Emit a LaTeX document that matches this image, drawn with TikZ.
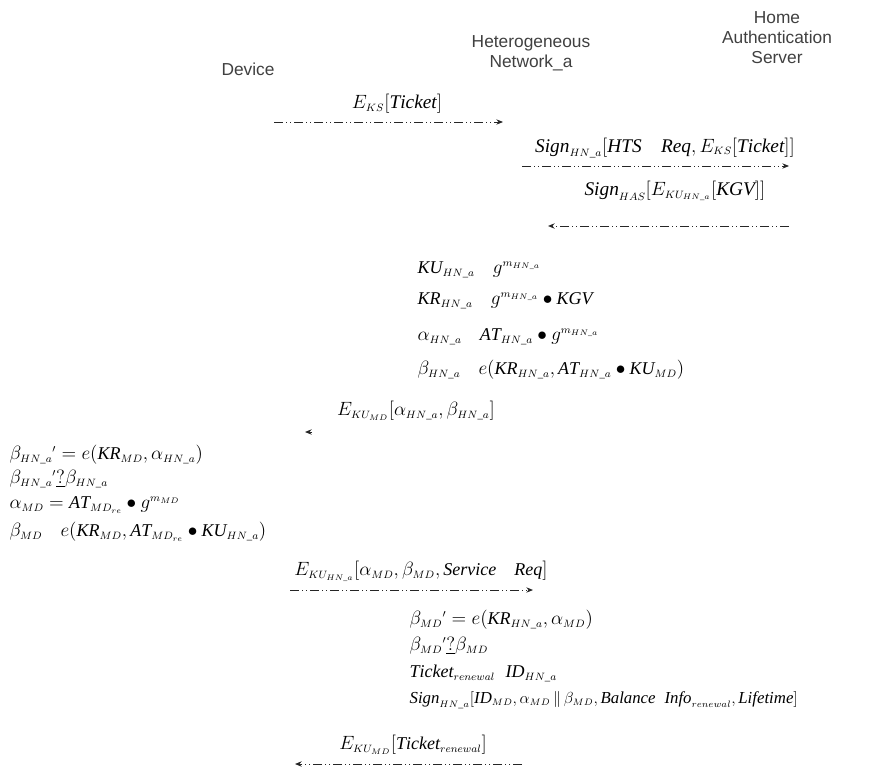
\documentclass[tikz,border=0pt]{standalone}
\usepackage{fontspec}
\usepackage{amsmath}
\setmainfont{Liberation Serif}
\newfontfamily\hdrfont{Liberation Sans}
\DeclareMathSizes{13.5}{13.5}{8}{6}
\DeclareMathSizes{14.5}{14.5}{8.5}{6.5}
\DeclareMathSizes{12.6}{12.6}{7.5}{5.5}
\usetikzlibrary{arrows.meta}
\tikzset{
  hdr/.style={font=\hdrfont\fontsize{13}{15}\selectfont, align=center, text=black!75},
  lbl/.style={font=\fontsize{13.5}{16}\selectfont, inner sep=1pt},
  biglbl/.style={font=\fontsize{14.5}{17}\selectfont, inner sep=1pt},
  eq/.style={font=\fontsize{13.5}{16}\selectfont, anchor=west, inner sep=1pt},
  smalleq/.style={eq, font=\fontsize{12.6}{15}\selectfont},
  msg/.style={draw=black!85, line width=0.7pt,
    dash pattern=on 7pt off 2pt on 1pt off 2pt on 1pt off 2pt,
    -{Stealth[length=5pt,width=4pt]}}
}
\begin{document}
\begin{tikzpicture}[x=0.75pt,y=-0.75pt]
\useasboundingbox (0,0) rectangle (870,784);
% headers
\node[hdr] (dev) at (248,69) {Device};
\node[hdr] (hn) at (531,53) {Heterogeneous\\Network\_a};
\node[hdr] (has) at (777,38) {Home\\Authentication\\Server};

% message 1
\node[biglbl] (m1) at (397,104) {$E_{KS}[\mathit{Ticket}]$};
\coordinate (m1a) at (274,122);
\coordinate (m1b) at (503,122);
\draw[msg] (m1a) -- (m1b);

% message 2
\node[biglbl] (m2) at (665,148) {$\mathit{Sign}_{HN\_a}[\mathit{HTS}\quad \mathit{Req}, E_{KS}[\mathit{Ticket}]]$};
\coordinate (m2a) at (522,166);
\coordinate (m2b) at (789,166);
\draw[msg] (m2a) -- (m2b);

% message 3
\node[biglbl] (m3) at (675,191) {$\mathit{Sign}_{HAS}[E_{KU_{HN\_a}}[\mathit{KGV}]]$};
\coordinate (m3a) at (789,226);
\coordinate (m3b) at (548,226);
\draw[msg] (m3a) -- (m3b);

% block A
\node[eq] (a1) at (416,270) {$\mathit{KU}_{HN\_a}\quad g^{m_{HN\_a}}$};
\node[eq] (a2) at (416,301) {$\mathit{KR}_{HN\_a}\quad g^{m_{HN\_a}}\bullet \mathit{KGV}$};
\node[eq] (a3) at (416,337) {$\alpha_{HN\_a}\quad \mathit{AT}_{HN\_a}\bullet g^{m_{HN\_a}}$};
\node[eq] (a4) at (416,370) {$\beta_{HN\_a}\quad e(\mathit{KR}_{HN\_a},\mathit{AT}_{HN\_a}\bullet \mathit{KU}_{MD})$};

% message 4
\node[lbl] (m4) at (416,411) {$E_{KU_{MD}}[\alpha_{HN\_a},\beta_{HN\_a}]$};
\coordinate (m4a) at (312,432);
\coordinate (m4b) at (305,432);
\draw[msg] (m4a) -- (m4b);

% block B
\node[eq] (b1) at (8,455) {$\beta_{HN\_a}{}'=e(\mathit{KR}_{MD},\alpha_{HN\_a})$};
\node[eq] (b2) at (8,479) {$\beta_{HN\_a}{}'\underline{?}\beta_{HN\_a}$};
\node[eq] (b3) at (8,505) {$\alpha_{MD}=\mathit{AT}_{MD_{re}}\bullet g^{m_{MD}}$};
\node[eq] (b4) at (8,532) {$\beta_{MD}\quad e(\mathit{KR}_{MD},\mathit{AT}_{MD_{re}}\bullet \mathit{KU}_{HN\_a})$};

% message 5
\node[lbl] (m5) at (421,571) {$E_{KU_{HN\_a}}[\alpha_{MD},\beta_{MD},\mathit{Service}\quad \mathit{Req}]$};
\coordinate (m5a) at (290,590);
\coordinate (m5b) at (533,590);
\draw[msg] (m5a) -- (m5b);

% block C
\node[eq] (c1) at (408,620) {$\beta_{MD}{}'=e(\mathit{KR}_{HN\_a},\alpha_{MD})$};
\node[eq] (c2) at (408,646) {$\beta_{MD}{}'\underline{?}\beta_{MD}$};
\node[eq] (c3) at (408,673) {$\mathit{Ticket}_{renewal}\;\; \mathit{ID}_{HN\_a}$};
\node[smalleq] (c4) at (408,700) {$\mathit{Sign}_{HN\_a}[\mathit{ID}_{MD},\alpha_{MD}\,\|\,\beta_{MD},\mathit{Balance}\;\; \mathit{Info}_{renewal},\mathit{Lifetime}]$};

% message 6
\node[lbl] (m6) at (413,745) {$E_{KU_{MD}}[\mathit{Ticket}_{renewal}]$};
\coordinate (m6a) at (522,764);
\coordinate (m6b) at (295,764);
\draw[msg] (m6a) -- (m6b);
\end{tikzpicture}
\end{document}
